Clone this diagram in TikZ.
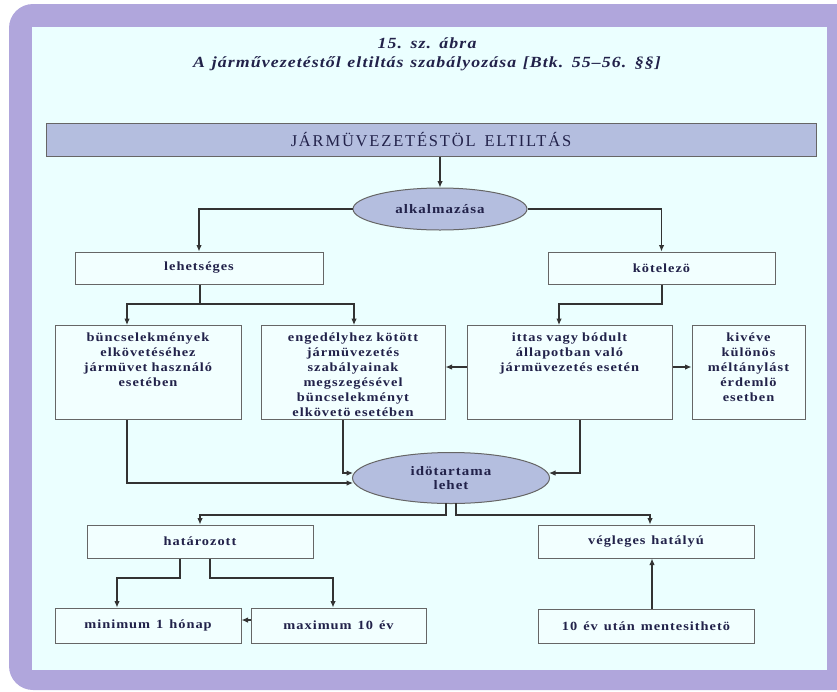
\documentclass[tikz,border=0pt]{standalone}
\usepackage{fontspec}
\setmainfont{Liberation Serif}
\newfontfamily\boxfont[FakeStretch=1.15,LetterSpace=8,WordSpace=1.3]{Liberation Serif}
\newfontfamily\barfont[LetterSpace=11,WordSpace=1.5]{Liberation Serif}
\newfontfamily\titlefont[FakeStretch=1.15,LetterSpace=7,WordSpace=1.2]{Liberation Serif}
\usetikzlibrary{arrows.meta,shapes.geometric}
\definecolor{framepurple}{HTML}{B0A6DC}
\definecolor{paneBg}{HTML}{EBFFFF}
\definecolor{boxBg}{HTML}{F2FFFF}
\definecolor{blueFill}{HTML}{B4BEDF}
\definecolor{inkNavy}{HTML}{22224A}
\definecolor{lineGray}{HTML}{333333}
\begin{document}
\begin{tikzpicture}[x=1pt,y=-1pt,
  rbox/.style={draw=lineGray!75,line width=1pt,fill=boxBg,inner sep=0pt,
    text=inkNavy,font=\boxfont\bfseries\fontsize{12.5}{15}\selectfont,align=center},
  oval/.style={ellipse,draw=lineGray!75,line width=1pt,fill=blueFill,inner sep=0pt,
    text=inkNavy,font=\boxfont\bfseries\fontsize{13}{14}\selectfont,align=center},
  conn/.style={draw=lineGray,line width=1.1pt},
  arr/.style={conn,-{Latex[length=6.5pt,width=5.5pt]}}
]
\useasboundingbox (0,0) rectangle (837,691);
% frame
\fill[framepurple,rounded corners=24pt] (9,4) rectangle (870,690);
\fill[paneBg] (32,27) rectangle (827,670);
% title
\node[text=inkNavy,font=\titlefont\bfseries\itshape\fontsize{15.5}{19}\selectfont,align=center] (title) at (427,54)
  {15. sz. ábra\\A járművezetéstől eltiltás szabályozása [Btk. 55–56. §§]};
% top bar
\node[draw=lineGray!75,line width=1pt,fill=blueFill,minimum width=770pt,minimum height=33pt,inner sep=0pt,
  text=inkNavy,font=\barfont\fontsize{16.5}{18}\selectfont] (bar) at (431,139.5) {JÁRMÜVEZETÉSTÖL ELTILTÁS};
% ellipses
\node[oval,minimum width=174pt,minimum height=42pt] (alk) at (440,209) {alkalmazása};
\node[oval,minimum width=197pt,minimum height=51pt] (ido) at (451,478) {idötartama\\lehet};
% level 2
\node[rbox,minimum width=248pt,minimum height=32pt] (leh) at (199,268) {lehetséges};
\node[rbox,minimum width=227pt,minimum height=32pt] (kot) at (661.5,268) {kötelezö};
% level 3 (top aligned text)
\node[rbox,text width=186pt,text height=16pt,text depth=78pt,anchor=north] (b1) at (148,325)
  {büncselekmények\\elkövetéséhez\\jármüvet használó\\esetében};
\node[rbox,text width=184pt,text height=16pt,text depth=78pt,anchor=north] (b2) at (353,325)
  {engedélyhez kötött\\jármüvezetés\\szabályainak\\megszegésével\\büncselekményt\\elkövetö esetében};
\node[rbox,text width=205pt,text height=16pt,text depth=78pt,anchor=north] (b3) at (569.5,325)
  {ittas vagy bódult\\állapotban való\\jármüvezetés esetén};
\node[rbox,text width=113pt,text height=16pt,text depth=78pt,anchor=north] (b4) at (748.5,325)
  {kivéve\\különös\\méltánylást\\érdemlö\\esetben};
% level 5
\node[rbox,minimum width=226pt,minimum height=33pt] (hat) at (200,541.5) {határozott};
\node[rbox,minimum width=216pt,minimum height=33pt] (veg) at (646,541.5) {végleges hatályú};
\node[rbox,minimum width=186pt,minimum height=35pt] (min) at (148,625.5) {minimum 1 hónap};
\node[rbox,minimum width=175pt,minimum height=35pt] (max) at (338.5,625.5) {maximum 10 év};
\node[rbox,minimum width=216pt,minimum height=34pt] (tiz) at (646,626) {10 év után mentesithetö};
% connectors
\draw[arr] (bar.south -| alk.north) -- (alk.north);
\draw[arr] (alk.west) -| (leh.north);
\draw[arr] (alk.east) -| (kot.north);
\coordinate (lj) at (200,304);
\draw[conn] (leh.south -| lj) -- (lj);
\draw[arr] (lj) -| (127,304) -- (127,325);
\draw[arr] (lj) -| (354,304) -- (354,325);
\draw[arr] (kot.south -| 662,0) |- (559,304) -- (b3.north -| 559,0);
\draw[arr] (b3.west |- 0,367) -- (b2.east |- 0,367);
\draw[arr] (b3.east |- 0,367) -- (b4.west |- 0,367);
\draw[arr] (b1.south -| 127,0) |- ([xshift=1pt]ido.west |- 0,483);
\draw[arr] (b2.south -| 343,0) |- ([xshift=1pt]ido.west |- 0,473);
\draw[arr] (b3.south -| 580,0) |- ([xshift=-1pt]ido.east |- 0,473);
\draw[arr] (446,503) |- (200,515) -- (hat.north);
\draw[arr] (456,503) |- (650,515) -- (veg.north -| 650,0);
\draw[arr] (hat.south -| 180,0) |- (117,578) -- (min.north -| 117,0);
\draw[arr] (hat.south -| 210,0) |- (333,578) -- (max.north -| 333,0);
\draw[arr] (max.west |- 0,620) -- (min.east |- 0,620);
\draw[arr] (tiz.north -| 652,0) -- (veg.south -| 652,0);
\end{tikzpicture}
\end{document}
